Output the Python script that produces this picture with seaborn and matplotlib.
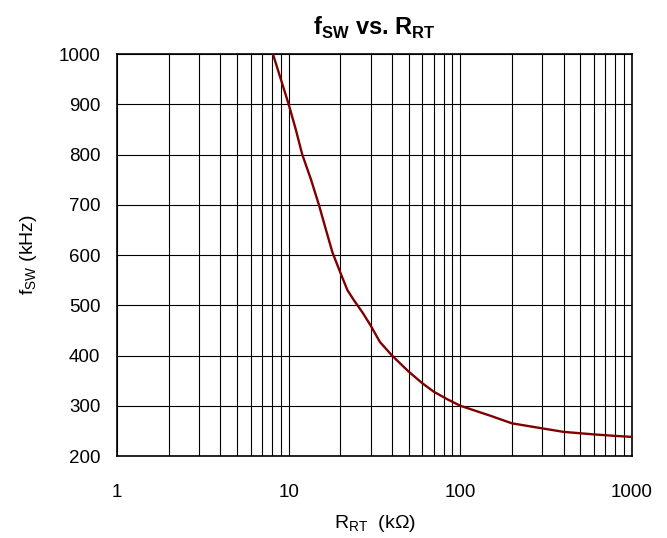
import matplotlib
matplotlib.use("Agg")
import matplotlib.pyplot as plt
import seaborn as sns
import pandas as pd
from matplotlib.ticker import FixedLocator, FixedFormatter, NullFormatter, LogLocator

r_rt_kohm = [8.1, 9, 10, 11, 12, 13.5, 15, 16.5, 18, 20, 22, 24, 27, 30, 34, 40, 50, 60, 70, 85, 100, 150, 200, 300, 400, 600, 800, 1000]
f_sw_khz = [1000, 950, 900, 850, 800, 750, 700, 650, 605, 565, 530, 510, 485, 460, 427, 400, 368, 345, 328, 312, 300, 280, 265, 255, 248, 243, 240, 238]
x_ticks = [1, 10, 100, 1000]
x_tick_labels = ["1", "10", "100", "1000"]
y_ticks = [200, 300, 400, 500, 600, 700, 800, 900, 1000]

sns.set_style("white")
plt.rcParams["font.family"] = ["Liberation Sans", "DejaVu Sans"]
plt.rcParams["mathtext.fontset"] = "custom"
plt.rcParams["mathtext.rm"] = "Liberation Sans"
plt.rcParams["mathtext.bf"] = "Liberation Sans:bold"
for k in ["text.color", "axes.labelcolor", "xtick.color", "ytick.color"]:
    plt.rcParams[k] = "black"

df = pd.DataFrame({"R": r_rt_kohm, "f": f_sw_khz})

fig = plt.figure(figsize=(6.67, 5.38), dpi=100)
ax = fig.add_axes([0.1754, 0.1524, 0.9475 - 0.1754, 0.8996 - 0.1524])

sns.lineplot(data=df, x="R", y="f", ax=ax, color="#800000", linewidth=1.7, zorder=3)

ax.set_xscale("log")
ax.set_xlim(1, 1000)
ax.set_ylim(200, 1000)
ax.xaxis.set_major_locator(FixedLocator(x_ticks))
ax.xaxis.set_major_formatter(FixedFormatter(x_tick_labels))
ax.xaxis.set_minor_locator(LogLocator(base=10, subs=range(2, 10)))
ax.xaxis.set_minor_formatter(NullFormatter())
ax.yaxis.set_major_locator(FixedLocator(y_ticks))

ax.grid(True, which="both", axis="x", color="black", linewidth=0.8)
ax.grid(True, which="major", axis="y", color="black", linewidth=0.8)
ax.tick_params(axis="both", which="both", length=0, labelsize=13.5)
ax.tick_params(axis="x", pad=20)
ax.tick_params(axis="y", pad=12)
for s in ax.spines.values():
    s.set_color("black")
    s.set_linewidth(1.2)

ax.set_xlabel(r"R$_\mathregular{RT}$  (k$\Omega$)", fontsize=14, labelpad=9)
ax.set_ylabel(r"f$_\mathregular{SW}$ (kHz)", fontsize=14, labelpad=14)
ax.set_title(r"f$_\mathbf{SW}$ vs. R$_\mathbf{RT}$", fontsize=17, fontweight="bold", pad=14)

fig.savefig("out.png", dpi=100)
